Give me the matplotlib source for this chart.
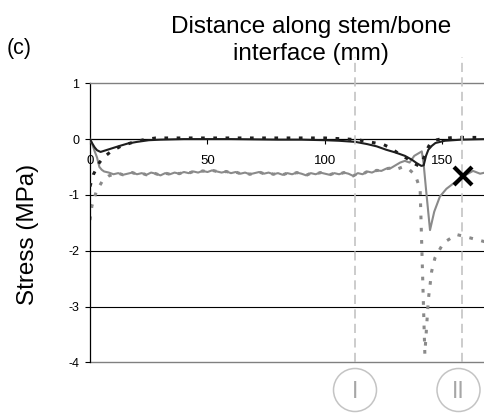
import matplotlib
matplotlib.use("Agg")
import matplotlib.pyplot as plt
from matplotlib.patches import Circle

plt.rcParams['font.family'] = ['Liberation Sans', 'DejaVu Sans']

# Black solid series
a_x = [0, 1, 2, 3, 4.5, 6, 9, 12, 16, 20, 25, 30, 40, 60, 80, 90, 100, 106, 113,
       118, 122, 126, 130, 134, 137, 139, 141, 142, 143, 144, 145.5, 147, 151, 158, 168.1]
a_y = [0, -0.08, -0.15, -0.2, -0.23, -0.21, -0.17, -0.13, -0.08, -0.05, -0.02, -0.01,
       0.0, 0.0, -0.01, -0.01, -0.02, -0.03, -0.05, -0.09, -0.13, -0.19, -0.24, -0.3,
       -0.37, -0.43, -0.48, -0.47, -0.3, -0.19, -0.12, -0.07, -0.03, -0.01, 0.0]

# Black dotted series
b_x = [0, 1.5, 4, 6, 9, 13, 18, 23, 28, 40, 60, 80, 100, 110, 115, 119, 125, 128, 131,
       135, 138, 140, 141.5, 143, 144.5, 146, 150, 155, 168.1]
b_y = [-0.85, -0.63, -0.42, -0.32, -0.22, -0.13, -0.06, -0.01, 0.02, 0.02, 0.02, 0.02,
       0.02, 0.0, -0.02, -0.05, -0.1, -0.16, -0.25, -0.35, -0.44, -0.48, -0.4, -0.22,
       -0.1, -0.03, 0.01, 0.03, 0.03]

# Grey solid series
c_x = [0, 1, 2, 3, 4, 5, 6, 8,
       10, 12, 14, 16, 18, 20, 22, 24, 26, 28, 30, 32, 34, 36, 38, 40, 42, 44, 46, 48,
       50, 52, 54, 56, 58, 60, 62, 64, 66, 68, 70, 72, 74, 76, 78, 80, 82, 84, 86, 88,
       90, 92, 94, 96, 98, 100, 102, 104, 106, 108, 110, 112, 114, 116, 118, 120,
       122, 124, 126, 128, 130, 132, 134, 136, 138, 140, 141.2, 142, 143, 144.7, 146.5,
       148.9, 151.7, 154.5, 157, 160, 163, 166, 168.1]
c_y = [0, -0.1, -0.22, -0.33, -0.5, -0.55, -0.58, -0.6,
       -0.63, -0.61, -0.64, -0.62, -0.60, -0.63, -0.61, -0.64, -0.60, -0.62, -0.65, -0.61,
       -0.63, -0.60, -0.62, -0.59, -0.61, -0.58, -0.60, -0.57, -0.59, -0.56, -0.58, -0.60,
       -0.58, -0.61, -0.59, -0.62, -0.60, -0.63, -0.61, -0.59, -0.62, -0.60, -0.63, -0.61,
       -0.64, -0.61, -0.63, -0.60, -0.62, -0.65, -0.61, -0.63, -0.60, -0.62, -0.64, -0.61,
       -0.63, -0.60, -0.62, -0.66, -0.61, -0.63, -0.58, -0.60,
       -0.56, -0.57, -0.53, -0.52, -0.47, -0.42, -0.39, -0.42, -0.30, -0.25, -0.22, -0.45,
       -0.9, -1.63, -1.3, -1.03, -0.89, -0.8, -0.72, -0.64, -0.57, -0.62, -0.6]

# Grey dotted series (runs along the grey solid one in the middle section)
d_head_x = [0, 0.8, 2.6, 5.4, 8]
d_head_y = [-1.45, -1.2, -0.95, -0.74, -0.66]
d_tail_x = [130, 133, 136, 138.5, 140.5, 142.5, 144, 145.4, 146.8, 150.4, 156, 161.7, 168.1]
d_tail_y = [-0.55, -0.5, -0.55, -0.65, -0.9, -3.85, -2.87, -2.37, -2.13, -1.86, -1.71, -1.77, -1.84]

# Marked point and reference positions
mark_x, mark_y = 158.8, -0.67
ref_positions = [112.8, 158.1]
ref_labels = ["I", "II"]

x_ticks = [0, 50, 100, 150]
y_ticks = [1, 0, -1, -2, -3, -4]

W, H = 485, 413
fig = plt.figure(figsize=(W / 100, H / 100), dpi=100)
ax = fig.add_axes([90 / W, (H - 362.3) / H, (W - 90) / W, (362.3 - 83.3) / H])
ax.set_xlim(0, 168.1)
ax.set_ylim(-4, 1)

# horizontal grid
for yv in [-1, -2, -3]:
    ax.axhline(yv, color='black', lw=0.8, zorder=1)
ax.axhline(-4, color='#808080', lw=1.0, zorder=1, clip_on=False)

mid = [i for i, xv in enumerate(c_x) if 10 <= xv <= 128]
d_x = d_head_x + [c_x[i] for i in mid] + d_tail_x
d_y = d_head_y + [c_y[i] for i in mid] + d_tail_y

ax.plot(d_x, d_y, color='#8a8a8a', lw=2.2, linestyle=(0, (1.2, 2.8)), zorder=2)
ax.plot(c_x, c_y, color='#8a8a8a', lw=1.5, zorder=3)
ax.plot(b_x, b_y, color='#1e1e1e', lw=2.2, linestyle=(0, (1.2, 2.8)), zorder=4)
ax.plot(a_x, a_y, color='#1e1e1e', lw=1.5, zorder=5)

ax.plot([mark_x], [mark_y], marker='x', ms=12.5, mew=3.0, color='black', zorder=7,
        linestyle='none')

# reference lines
for xr in ref_positions:
    ax.plot([xr, xr], [-4, 1.47], color='#c4c4c4', lw=1.2,
            linestyle=(0, (5.5, 3.2)), clip_on=False, zorder=6)

# spines
ax.spines['right'].set_visible(False)
ax.spines['top'].set_color('#808080')
ax.spines['top'].set_linewidth(1.0)
ax.spines['left'].set_color('black')
ax.spines['left'].set_linewidth(0.9)
ax.spines['bottom'].set_position(('data', 0))
ax.spines['bottom'].set_color('black')
ax.spines['bottom'].set_linewidth(0.9)

ax.set_xticks(x_ticks)
ax.set_xticklabels([str(v) for v in x_ticks])
ax.set_yticks(y_ticks)
ax.set_yticklabels([str(v) for v in y_ticks])
ax.tick_params(axis='x', direction='out', length=3.6, width=0.8, pad=8, labelsize=9.5)
ax.tick_params(axis='y', direction='out', length=3.6, width=0.8, pad=4, labelsize=9)

# texts
fig.text(311 / W, 1 - 33 / H, "Distance along stem/bone", ha='center', va='baseline',
         fontsize=17.5)
fig.text(311 / W, 1 - 60 / H, "interface (mm)", ha='center', va='baseline', fontsize=17.5)
fig.text(7 / W, 1 - 54 / H, "(c)", ha='left', va='baseline', fontsize=15.5)
fig.text(28 / W, 1 - 234 / H, "Stress (MPa)", rotation=90, ha='center', va='center',
         fontsize=17.5)

# circled labels below the reference lines
circle_centres = [355, 458.5]
for cx, lab in zip(circle_centres, ref_labels):
    c = Circle((cx / 100, (H - 390) / 100), 0.215, transform=fig.dpi_scale_trans,
               facecolor='none', edgecolor='#c4c4c4', lw=1.1)
    fig.add_artist(c)
    fig.text(cx / W, (H - 391) / H, lab, ha='center', va='center', fontsize=16.5,
             color='#a6a6a6')

fig.savefig("out.png", dpi=100)
